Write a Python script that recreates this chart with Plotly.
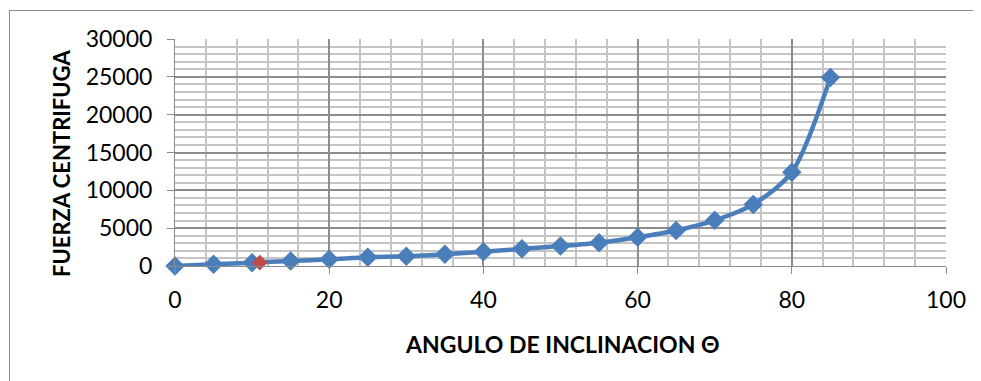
import plotly.graph_objects as go

angulo = [0, 5, 10, 15, 20, 25, 30, 35, 40, 45, 50, 55, 60, 65, 70, 75, 80, 85]
fuerza = [0, 220, 440, 660, 880, 1170, 1280, 1540, 1880, 2270, 2640, 3080, 3800, 4700, 6030, 8140, 12400, 24900]
punto_x = [11]
punto_y = [450]

x_ticks = [0, 20, 40, 60, 80, 100]
y_ticks = [0, 5000, 10000, 15000, 20000, 25000, 30000]

# page offset of the figure inside the browser window
OX, OY = 7, 7
W, H = 974, 374
# target plot area in page pixels
PX0, PX1, PY0, PY1 = 174, 945, 38, 265
L, T = PX0 - OX, PY0 - OY
R, B = W - (PX1 - OX), H - (PY1 - OY)
pw, ph = PX1 - PX0, PY1 - PY0


def px(xp):
    return (xp - PX0) / pw


def py(yp):
    return 1 - (yp - PY0) / ph


FONT = "Lato"
BLUE = "#4A7EBB"
RED = "#BE4B48"
MAJ = "#8C8C8C"
MIN = "#C4C4C4"

fig = go.Figure()
fig.add_trace(go.Scatter(
    x=angulo, y=fuerza, mode="lines+markers",
    line=dict(color=BLUE, width=4.5, shape="spline", smoothing=0.8),
    marker=dict(symbol="diamond", size=15, color=BLUE),
    showlegend=False, cliponaxis=False,
))
fig.add_trace(go.Scatter(
    x=punto_x, y=punto_y, mode="markers",
    marker=dict(symbol="diamond", size=12, color=RED),
    showlegend=False, cliponaxis=False,
))

axis_common = dict(
    showline=True, linecolor=MAJ, linewidth=1,
    ticks="outside", ticklen=7, tickcolor=MAJ, tickwidth=1,
    showgrid=True, gridcolor=MAJ, gridwidth=1.5,
    zeroline=False,
    tickfont=dict(family=FONT, size=23, color="#000000"),
)
fig.update_xaxes(range=[0, 100], tickvals=x_ticks, ticktext=[str(v) for v in x_ticks],
                 minor=dict(dtick=4, tick0=0, showgrid=True, gridcolor=MIN, gridwidth=1.5, ticks=""),
                 ticklabelstandoff=6, **axis_common)
fig.update_yaxes(range=[0, 30000], tickvals=y_ticks, ticktext=[str(v) for v in y_ticks],
                 minor=dict(dtick=1000, tick0=0, showgrid=True, gridcolor=MIN, gridwidth=1.5, ticks=""),
                 ticklabelstandoff=10, **axis_common)

fig.add_annotation(text="<b>ANGULO DE INCLINACION Θ</b>", xref="paper", yref="paper",
                   x=px(561), y=py(343), xanchor="center", yanchor="middle", showarrow=False,
                   font=dict(family=FONT, size=23, color="#000000"))
fig.add_annotation(text="<b>FUERZA CENTRIFUGA</b>", xref="paper", yref="paper",
                   x=px(60), y=py(163), xanchor="center", yanchor="middle",
                   textangle=-90, showarrow=False,
                   font=dict(family=FONT, size=22, color="#000000"))

# chart-area frame: only the left and top edges fall inside the window
fig.add_shape(type="line", xref="paper", yref="paper",
              x0=px(8.5), x1=px(8.5), y0=py(420), y1=py(9),
              line=dict(color=MAJ, width=1), layer="below")
fig.add_shape(type="line", xref="paper", yref="paper",
              x0=px(8.5), x1=px(1020), y0=py(9.5), y1=py(9.5),
              line=dict(color=MAJ, width=1), layer="below")

fig.update_layout(
    width=W, height=H, autosize=False,
    margin=dict(l=L, r=R, t=T, b=B, autoexpand=False),
    paper_bgcolor="white", plot_bgcolor="white",
    font=dict(family=FONT),
)

fig.write_html("out.html")
